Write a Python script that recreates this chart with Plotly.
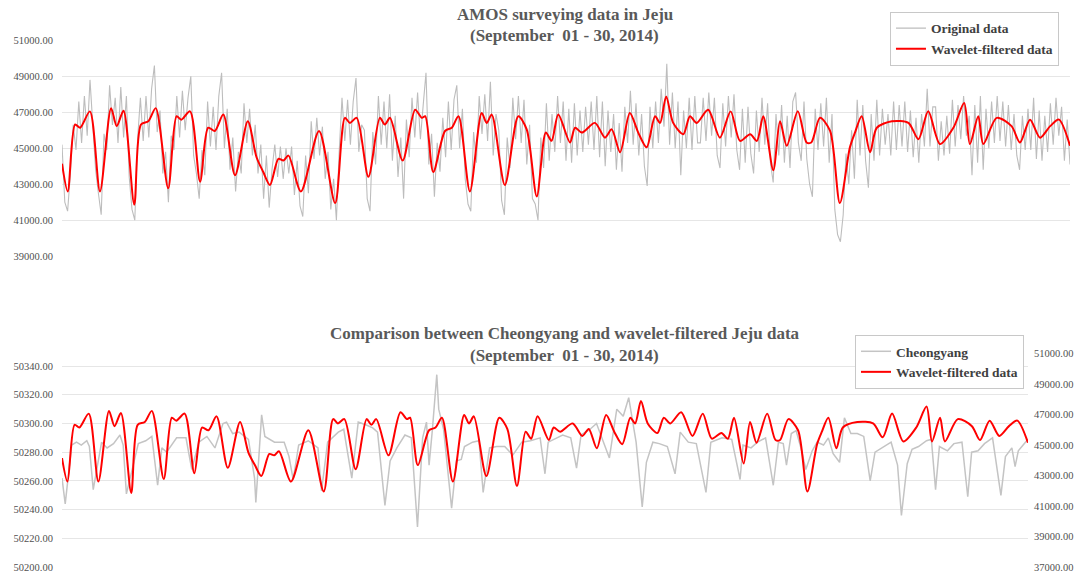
import numpy as np
import plotly.graph_objects as go

# ---------------- data ----------------
# Wavelet-filtered Jeju data: time in days since Sept 1, value
red_t = [0, 0.17, 0.39, 0.54, 0.83, 1.13, 1.46, 1.63, 1.83, 2.15, 2.35, 2.57, 2.79, 3.16, 3.41, 3.55,
         3.81, 4.11, 4.35, 4.55, 4.80, 5.15, 5.53, 5.79, 5.99, 6.19, 6.44, 6.59, 6.74, 7.11, 7.65, 8.13,
         8.42, 8.57, 8.77, 9.12, 9.46, 9.61, 9.76, 10.14, 10.51, 10.71, 10.81, 11.05, 11.40, 11.60, 11.80,
         12.14, 12.49, 12.64, 12.79, 13.18, 13.58, 13.83, 14.13, 14.40, 14.57, 14.77, 15.12, 15.27, 15.47,
         15.86, 16.16, 16.36, 16.61, 16.90, 17.15, 17.40, 17.65, 17.80, 17.98, 18.19, 18.49, 18.69, 18.89,
         19.23, 19.58, 19.90, 20.18, 20.48, 20.68, 20.87, 21.17, 21.37, 21.57, 21.90, 22.16, 22.30, 22.56,
         22.86, 23.15, 23.45, 23.60, 23.80, 24.05, 24.25, 24.70, 25.19, 25.49, 25.78, 26.13, 26.53, 26.85,
         27.02, 27.27, 27.42, 27.82, 28.26, 28.51, 28.81, 29.11, 29.41, 29.67, 30.0]
red_v = [44140, 42600, 46320, 46140, 47050, 42600, 47230, 46230, 47090, 41860, 46320, 46500, 47230, 42770,
         46780, 46590, 47050, 43140, 46140, 45960, 46870, 43500, 46500, 44500, 43680, 42960, 44410, 44320,
         44590, 42600, 45960, 41950, 46690, 46410, 46690, 43410, 46690, 46320, 46690, 44320, 47140, 46690,
         46780, 43680, 45960, 46140, 46780, 42600, 46960, 46410, 46870, 42960, 46780, 46050, 42320, 45870,
         45410, 46870, 45320, 46140, 45870, 46410, 45590, 46050, 44780, 46960, 45870, 45050, 46780, 46410,
         47870, 46410, 45780, 46780, 46410, 47140, 45590, 47050, 45410, 45780, 45410, 46780, 43780, 46500,
         45140, 47050, 45320, 45320, 46690, 45960, 41950, 45050, 45870, 46780, 44780, 46140, 46500, 46410,
         45500, 47050, 45230, 46140, 47510, 45230, 46780, 45230, 46690, 46230, 45320, 46590, 45590, 46230,
         46590, 45140]

# Original AMOS data, sampled every 2 hours (12 values per day)
orig_v = [
    45200, 42000, 41500, 43600, 46300, 44900, 47600, 45300, 47900, 45700, 48800, 46000,
    43800, 42500, 41300, 45800, 44900, 48500, 46300, 47800, 45300, 48400, 45600, 47900,
    43400, 41600, 41000, 45500, 47800, 45400, 47900, 45600, 48300, 49600, 45900, 47100,
    43600, 44800, 42000, 45700, 44900, 47900, 45600, 48200, 46000, 47800, 49000, 44600,
    43600, 42200, 44900, 43500, 47600, 45100, 47300, 44900, 47900, 49200, 45000, 47200,
    43800, 45600, 42600, 44800, 43600, 47500, 45300, 47200, 44600, 46300, 43600, 45200,
    42200, 44600, 41700, 43800, 45200, 43400, 45100, 43300, 45000, 43600, 45100, 42400,
    44300, 41800, 41200, 44600, 42500, 46500, 44400, 46700, 44600, 46200, 43300, 44800,
    41600, 43300, 41000, 44800, 47800, 45400, 47700, 45200, 47600, 48900, 44800, 46300,
    46000, 42200, 41500, 45900, 44100, 47900, 45200, 47600, 45000, 48000, 44300, 46800,
    43400, 45600, 42200, 46600, 44500, 47800, 45600, 48100, 45500, 47400, 49200, 44100,
    45800, 42300, 45300, 43700, 46700, 44500, 47600, 44900, 47700, 48500, 45000, 47200,
    43300, 41900, 41500, 45900, 44200, 47900, 45800, 48000, 45400, 48700, 44600, 46900,
    46000, 42100, 41300, 45600, 43900, 47800, 45500, 47900, 45300, 47700, 44100, 46300,
    42200, 41900, 41000, 45600, 43900, 47500, 44300, 46900, 44800, 47900, 45300, 47600,
    44300, 47200, 44200, 47500, 44600, 47100, 44800, 47300, 45200, 47600, 44900, 47900,
    44500, 47600, 44000, 47100, 44800, 46900, 43800, 46400, 43700, 47300, 45300, 48200,
    45200, 47500, 44600, 46900, 44000, 42900, 47300, 45000, 47600, 45300, 48300, 46200,
    49700, 45200, 48100, 45000, 47600, 43500, 47100, 45000, 47800, 44900, 47900, 45300,
    45300, 47800, 45400, 48100, 45700, 47800, 44600, 43900, 47500, 45100, 47900, 45600,
    48000, 44900, 43800, 47200, 44200, 47300, 44700, 43600, 47100, 44800, 47800, 45200,
    47500, 44200, 43100, 46900, 44600, 47400, 44200, 46800, 43900, 47600, 48100, 45300,
    44300, 47600, 44400, 43000, 42300, 47200, 44900, 47500, 45100, 47800, 44200, 46900,
    41600, 40200, 39800, 41300, 44700, 43000, 46000, 43300, 47700, 44600, 47400, 44300,
    42800, 46900, 44300, 47700, 44600, 47200, 45200, 46900, 44600, 47600, 44900, 47400,
    45100, 47600, 44800, 47100, 44500, 46700, 44200, 46900, 45100, 48300, 45100, 47300,
    47300, 44300, 46500, 44600, 46800, 44700, 47700, 45100, 47400, 45500, 47900, 45700,
    46800, 43500, 47400, 44200, 47900, 43800, 47200, 45000, 47600, 45300, 47900, 45400,
    47600, 45100, 47400, 44900, 46900, 44600, 43800, 46800, 44900, 47200, 44900, 47800,
    44400, 47100, 44300, 46800, 44800, 47500, 45200, 47800, 45700, 47300, 44300, 46600,
    44100]
orig_t = np.arange(len(orig_v)) / 12.0

# Cheongyang data: time in days, value
cy_t = [0, 0.1, 0.3, 0.45, 0.6, 0.77, 0.85, 0.97, 1.23, 1.4, 1.6, 1.8, 1.9, 2.0, 2.37, 2.6, 2.79, 2.97,
        3.1, 3.25, 3.56, 3.85, 4.03, 4.25, 4.5, 4.75, 5.0, 5.11, 5.3, 5.5, 5.79, 5.98, 6.02, 6.2, 6.3,
        6.6, 6.9, 7.05, 7.18, 7.35, 7.65, 7.95, 8.06, 8.25, 8.58, 8.75, 9.0, 9.2, 9.45, 9.65, 9.8, 10.03,
        10.19, 10.4, 10.65, 10.85, 11.04, 11.2, 11.32, 11.4, 11.5, 11.64, 11.7, 11.85, 12.1, 12.25, 12.4,
        12.5, 12.75, 12.95, 13.08, 13.28, 13.5, 13.75, 14.0, 14.28, 14.55, 14.85, 15.0, 15.1, 15.55,
        15.8, 15.98, 16.12, 16.4, 16.6, 17.0, 17.23, 17.43, 17.6, 17.83, 18.02, 18.15, 18.35, 18.55,
        18.8, 19.04, 19.2, 19.45, 19.7, 20.0, 20.15, 20.5, 20.8, 21.06, 21.15, 21.4, 21.6, 21.85, 22.09,
        22.25, 22.4, 22.5, 22.65, 22.8, 22.95, 23.1, 23.3, 23.45, 23.65, 23.8, 23.95, 24.15, 24.3, 24.5,
        24.7, 24.9, 25.1, 25.25, 25.45, 25.75, 25.95, 26.07, 26.25, 26.4, 26.6, 26.85, 27.0, 27.13,
        27.25, 27.5, 27.7, 27.95, 28.13, 28.25, 28.45, 28.65, 28.9, 29.16, 29.3, 29.5, 29.6, 29.7,
        29.85, 30.0]
cy_v = [50262, 50244, 50285, 50287, 50285, 50288, 50284, 50254, 50287, 50283, 50286, 50292, 50285, 50251,
        50286, 50288, 50291, 50257, 50283, 50280, 50290, 50290, 50268, 50287, 50291, 50283, 50300, 50301,
        50293, 50294, 50289, 50262, 50245, 50306, 50291, 50287, 50287, 50277, 50261, 50285, 50288, 50283,
        50253, 50287, 50294, 50296, 50262, 50301, 50299, 50297, 50294, 50243, 50274, 50283, 50292, 50290,
        50228, 50290, 50301, 50271, 50295, 50334, 50310, 50296, 50241, 50274, 50275, 50284, 50287, 50288,
        50252, 50283, 50284, 50284, 50278, 50287, 50288, 50290, 50265, 50287, 50292, 50290, 50269, 50292,
        50296, 50300, 50276, 50310, 50305, 50318, 50287, 50242, 50273, 50287, 50286, 50284, 50265, 50294,
        50287, 50286, 50252, 50287, 50290, 50289, 50261, 50285, 50283, 50287, 50290, 50257, 50287, 50286,
        50271, 50293, 50295, 50283, 50268, 50281, 50287, 50285, 50290, 50279, 50273, 50304, 50293, 50293,
        50291, 50260, 50280, 50283, 50287, 50271, 50236, 50272, 50282, 50284, 50288, 50289, 50254, 50284,
        50281, 50286, 50287, 50249, 50280, 50281, 50286, 50290, 50250, 50277, 50283, 50270, 50281, 50285,
        50289]

top_title = ["AMOS surveying data in Jeju", "(September  01 - 30, 2014)"]
bot_title = ["Comparison between Cheongyang and wavelet-filtered Jeju data", "(September  01 - 30, 2014)"]

# ---------------- figure ----------------
SERIF = "Liberation Serif, Times New Roman, serif"
TXT = "#505050"
GRID = "#e6e6e6"
RED = "#ff0000"
CLEAR = "rgba(0,0,0,0)"

fig = go.Figure()
fig.add_trace(go.Scatter(x=orig_t, y=orig_v, mode="lines", name="<b>Original data</b>",
                         line=dict(color="#bdbdbd", width=1.1), xaxis="x", yaxis="y", legend="legend"))
fig.add_trace(go.Scatter(x=red_t, y=red_v, mode="lines", name="<b>Wavelet-filtered data</b>",
                         line=dict(color=RED, width=2, shape="spline", smoothing=0.8),
                         xaxis="x", yaxis="y", legend="legend"))
fig.add_trace(go.Scatter(x=cy_t, y=cy_v, mode="lines", name="<b>Cheongyang</b>",
                         line=dict(color="#c4c4c4", width=1.5), xaxis="x2", yaxis="y2", legend="legend2"))
fig.add_trace(go.Scatter(x=red_t, y=red_v, mode="lines", name="<b>Wavelet-filtered data</b>",
                         line=dict(color=RED, width=2, shape="spline", smoothing=0.8),
                         xaxis="x2", yaxis="y3", legend="legend2"))

tickfont = dict(family=SERIF, size=10.5, color=TXT)
hidden_x = dict(range=[0, 30], showgrid=False, showticklabels=False, zeroline=False,
                showline=False, ticks="")

legend_common = dict(xanchor="left", yanchor="top", bgcolor="white", bordercolor="#c8c8c8",
                     borderwidth=1, font=dict(family=SERIF, size=13.5, color="#404040"),
                     itemwidth=30, tracegroupgap=0)

fig.update_layout(
    width=1081, height=580,
    margin=dict(l=62, r=11, t=0, b=0),
    paper_bgcolor="white", plot_bgcolor="white",
    showlegend=True,
    xaxis=dict(domain=[0, 1], anchor="y", **hidden_x),
    yaxis=dict(domain=[0.5586, 0.9379], anchor="x", range=[39000, 51000], dtick=2000, tick0=39000,
               tickformat=".2f", showgrid=True, gridcolor=GRID, gridwidth=1, zeroline=False,
               showline=False, ticks="outside", ticklen=6, tickcolor=CLEAR, tickfont=tickfont),
    xaxis2=dict(domain=[0, 0.9583], anchor="y2", **hidden_x),
    yaxis2=dict(domain=[0.01207, 0.3879], anchor="x2", range=[50200, 50348.9], dtick=20, tick0=50200,
                tickformat=".2f", showgrid=True, gridcolor=GRID, gridwidth=1, zeroline=False,
                showline=False, ticks="outside", ticklen=6, tickcolor=CLEAR, tickfont=tickfont),
    yaxis3=dict(overlaying="y2", side="right", anchor="x2", range=[37000, 51000], dtick=2000,
                tick0=37000, tickformat=".2f", showgrid=False, zeroline=False, showline=False,
                ticks="outside", ticklen=3, tickcolor=CLEAR, tickfont=tickfont),
    legend=dict(x=0.8214, y=0.988, **legend_common),
    legend2=dict(x=0.7867, y=0.42, **legend_common),
)

tfont = dict(family=SERIF, size=17, color="#595959")
for txt, ypx in [(top_title[0], 10), (top_title[1], 31), (bot_title[0], 335), (bot_title[1], 357)]:
    fig.add_annotation(text="<b>" + txt + "</b>", xref="paper", yref="paper", x=0.499,
                       y=(580 - ypx) / 580, xanchor="center", yanchor="middle",
                       showarrow=False, font=tfont)

fig.write_html("out.html", config={"displayModeBar": False},
               post_script="document.body.style.margin='0px';document.body.style.padding='0px';")
